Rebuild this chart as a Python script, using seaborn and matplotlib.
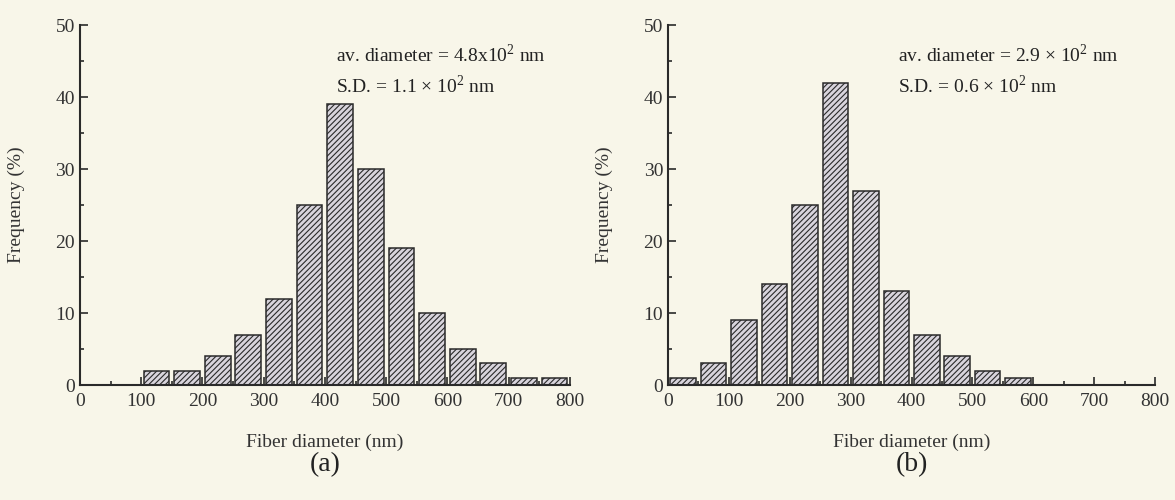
import numpy as np
import pandas as pd
import seaborn as sns
import matplotlib.pyplot as plt
from matplotlib.ticker import MultipleLocator

# histogram (a): bin starts (nm) and frequency (%)
bins_a = [100, 150, 200, 250, 300, 350, 400, 450, 500, 550, 600, 650, 700, 750]
freq_a = [2, 2, 4, 7, 12, 25, 39, 30, 19, 10, 5, 3, 1, 1]

# histogram (b)
bins_b = [0, 50, 100, 150, 200, 250, 300, 350, 400, 450, 500, 550]
freq_b = [1, 3, 9, 14, 25, 42, 27, 13, 7, 4, 2, 1]

notes_a = ["av. diameter = 4.8x10$^2$ nm", "S.D. = 1.1 \u00d7 10$^2$ nm"]
notes_b = ["av. diameter = 2.9 \u00d7 10$^2$ nm", "S.D. = 0.6 \u00d7 10$^2$ nm"]

bg = '#f8f6e9'
sns.set_style('ticks')
plt.rcParams['font.family'] = ['Liberation Serif', 'DejaVu Serif']
plt.rcParams['mathtext.fontset'] = 'custom'
plt.rcParams['mathtext.rm'] = 'Liberation Serif'
plt.rcParams['hatch.linewidth'] = 0.8

fig = plt.figure(figsize=(11.75, 5), dpi=100, facecolor=bg)
ax_a = fig.add_axes([0.068, 0.23, 0.417, 0.72])
ax_b = fig.add_axes([0.5685, 0.23, 0.4145, 0.72])


def draw_hist(ax, bins, freq, notes, note_x, tag):
    df = pd.DataFrame({'center': np.array(bins) + 25, 'freq': freq})
    sns.barplot(data=df, x='center', y='freq', native_scale=True, width=0.84,
                color='#d8d4dc', saturation=1, edgecolor='#2a2a2a',
                linewidth=1.1, hatch='//////', ax=ax)
    ax.set_facecolor(bg)
    ax.set_xlim(0, 800)
    ax.set_ylim(0, 50)
    ax.xaxis.set_major_locator(MultipleLocator(100))
    ax.xaxis.set_minor_locator(MultipleLocator(50))
    ax.yaxis.set_major_locator(MultipleLocator(10))
    ax.yaxis.set_minor_locator(MultipleLocator(5))
    ax.tick_params(which='both', direction='in', colors='#2a2a2a',
                   labelcolor='#333333', labelsize=14, width=1.2)
    ax.tick_params(axis='x', pad=6)
    ax.tick_params(which='major', length=6)
    ax.tick_params(which='minor', length=3)
    for s in ['top', 'right']:
        ax.spines[s].set_visible(False)
    for s in ['left', 'bottom']:
        ax.spines[s].set_linewidth(1.5)
        ax.spines[s].set_color('#2a2a2a')
    ax.set_xlabel('Fiber diameter (nm)', fontsize=14, color='#333333', labelpad=17)
    ax.set_ylabel('Frequency (%)', fontsize=14, color='#333333', labelpad=22)
    ax.text(note_x, 45.8, notes[0], fontsize=14, color='#222222', va='center')
    ax.text(note_x, 41.6, notes[1], fontsize=14, color='#222222', va='center')
    pos = ax.get_position()
    fig.text((pos.x0 + pos.x1) / 2, 0.07, tag, fontsize=20, color='#222222',
             ha='center', va='center')


draw_hist(ax_a, bins_a, freq_a, notes_a, 418, '(a)')
draw_hist(ax_b, bins_b, freq_b, notes_b, 378, '(b)')

fig.savefig('out.png', dpi=100, facecolor=bg)
